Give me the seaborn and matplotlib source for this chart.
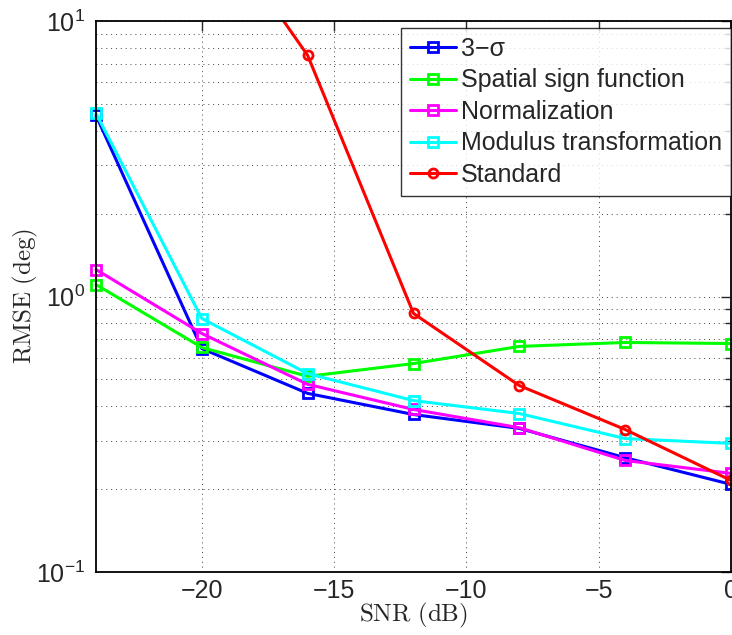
import numpy as np
import pandas as pd
import matplotlib
matplotlib.use("Agg")
import matplotlib.pyplot as plt
import seaborn as sns
from matplotlib.ticker import LogLocator, NullFormatter

snr = [-24, -20, -16, -12, -8, -4, 0]

rmse_3sigma = [4.54, 0.647, 0.445, 0.373, 0.332, 0.260, 0.208]
rmse_spatial = [1.105, 0.653, 0.513, 0.571, 0.659, 0.681, 0.675]
rmse_norm = [1.253, 0.734, 0.480, 0.389, 0.334, 0.254, 0.228]
rmse_modulus = [4.62, 0.832, 0.525, 0.419, 0.376, 0.305, 0.293]
rmse_standard = [45.0, 26.6, 7.5, 0.868, 0.475, 0.329, 0.215]

labels = ["3\u2212\u03c3", "Spatial sign function", "Normalization",
          "Modulus transformation", "Standard"]
colors = ["#0000ff", "#00ff00", "#ff00ff", "#00ffff", "#ff0000"]
markers = ["s", "s", "s", "s", "o"]

sns.set_style("white")
plt.rcParams['font.family'] = ['Liberation Sans', 'DejaVu Sans']
plt.rcParams['mathtext.fontset'] = 'custom'
plt.rcParams['mathtext.rm'] = 'Liberation Sans'

fig = plt.figure(figsize=(7.32, 6.35), dpi=100)
ax = fig.add_axes([96 / 732, 63 / 635, 635 / 732, 551 / 635])

series = [rmse_3sigma, rmse_spatial, rmse_norm, rmse_modulus, rmse_standard]
for vals, lab, col, mk in zip(series, labels, colors, markers):
    df = pd.DataFrame({"snr": snr, "rmse": vals})
    # the red curve runs off the top, so only it stays clipped
    sns.lineplot(data=df, x="snr", y="rmse", ax=ax, color=col, marker=mk,
                 markersize=6.5, markerfacecolor="none", markeredgecolor=col,
                 markeredgewidth=2, linewidth=2.2, label=lab,
                 clip_on=(lab == "Standard"))

ax.set_yscale("log")
ax.set_xlim(-24, 0)
ax.set_ylim(0.1, 10)
ax.set_xticks([-20, -15, -10, -5, 0])
ax.yaxis.set_major_locator(LogLocator(base=10, numticks=5))
ax.yaxis.set_minor_locator(LogLocator(base=10, subs=np.arange(2, 10), numticks=20))
ax.yaxis.set_minor_formatter(NullFormatter())

ax.grid(True, which="major", axis="both", linestyle=(0, (1, 4)), color="#444444", linewidth=0.7)
ax.grid(True, which="minor", axis="y", linestyle=(0, (1, 4)), color="#444444", linewidth=0.7)

ax.tick_params(which="both", direction="in", top=True, right=True, labelsize=18,
               width=1.0)
ax.tick_params(axis="x", pad=5)
ax.tick_params(axis="y", pad=8)
ax.tick_params(which="major", length=7)
ax.tick_params(which="minor", length=4)
for s in ax.spines.values():
    s.set_linewidth(1.3)
    s.set_color("black")

ax.set_xlabel(r"$\mathrm{SNR\ (dB)}$", fontsize=18, math_fontfamily="cm",
              va="top")
ax.set_ylabel(r"$\mathrm{RMSE\ (deg)}$", fontsize=18, math_fontfamily="cm",
              va="center")
ax.xaxis.set_label_coords(0.5, -29 / 551)
ax.yaxis.set_label_coords(-71 / 635, 0.5)

leg = ax.legend(loc="upper right", bbox_to_anchor=(1.0, 0.987), fontsize=18,
                frameon=True, fancybox=False, edgecolor="black",
                handlelength=1.85, handletextpad=0.2, borderpad=0.35,
                labelspacing=0.3, borderaxespad=0.0)
leg.get_frame().set_linewidth(1.0)
leg.set_zorder(5)

fig.savefig("out.png", dpi=100)
